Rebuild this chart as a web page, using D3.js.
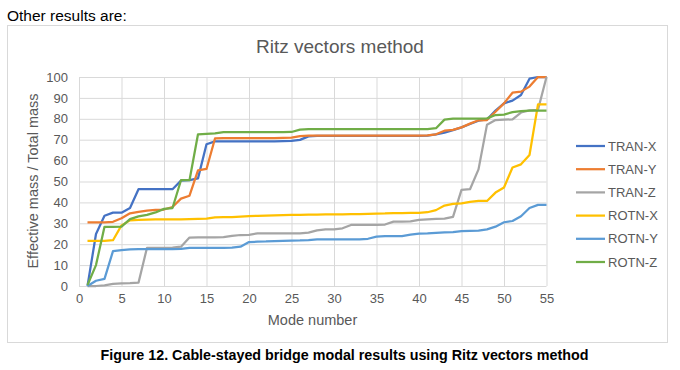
<!DOCTYPE html>
<html>
<head>
<meta charset="utf-8">
<script src="https://cdnjs.cloudflare.com/ajax/libs/d3/7.8.5/d3.min.js"></script>
<style>
    body { margin: 0; background: #fff; }
    text { font-family: "Liberation Sans", Arial, sans-serif; }
</style>
</head>
<body>
<svg id="chart"></svg>
<script>
// mode numbers 1..55
let modes = [1,2,3,4,5,6,7,8,9,10,11,12,13,14,15,16,17,18,19,20,21,22,23,24,25,26,27,28,29,30,31,32,33,34,35,36,37,38,39,40,41,42,43,44,45,46,47,48,49,50,51,52,53,54,55];

let tranX = [0,24.9,33.6,35.1,35.1,37.3,46.3,46.3,46.3,46.3,46.3,50.4,50.7,51.5,67.8,69.2,69.2,69.2,69.2,69.2,69.2,69.2,69.2,69.3,69.4,69.9,71.6,71.8,71.8,71.8,71.8,71.8,71.8,71.8,71.8,71.8,71.8,71.8,71.8,71.8,71.9,72.5,73.4,74.6,75.9,77.5,79.1,79.7,83.9,87.4,88.7,91.4,99.2,100,100];
let tranY = [30.5,30.5,30.5,30.7,32.4,34.8,35.5,36.1,36.4,36.6,37.8,41.8,43.2,55.3,56,70.6,70.7,70.7,70.7,70.8,70.8,70.8,70.8,70.9,71,71.7,72,72,72,72,72,72,72,72,72,72,72,72,72,72,72.1,72.6,74.3,74.7,75.9,77.7,79.3,79.4,83.4,87.4,92.5,93,95.4,100,100];
let tranZ = [0,0,0.3,1,1.3,1.4,1.6,18.3,18.3,18.3,18.4,18.8,23.2,23.3,23.3,23.3,23.4,24,24.4,24.5,25.2,25.2,25.2,25.2,25.2,25.2,25.5,26.6,27.1,27.1,27.6,29.2,29.2,29.2,29.2,29.4,30.8,30.8,30.9,31.6,31.9,32.1,32.2,33.1,46,46.3,55.8,77.2,79.4,79.6,79.7,83,84,84.3,100];
let rotnX = [21.6,21.6,21.6,21.9,29,31.4,31.6,31.8,31.9,31.9,31.9,31.9,32,32.1,32.2,32.8,32.9,33,33.2,33.4,33.6,33.7,33.8,33.9,34,34,34.1,34.2,34.3,34.3,34.3,34.4,34.4,34.5,34.6,34.7,34.9,34.9,35,35,35.3,36.3,38.5,39.3,39.5,40.2,40.7,40.7,44.7,47.1,56.7,58.2,62.7,86.9,86.9];
let rotnY = [0,2.5,3.4,16.7,17.2,17.5,17.6,17.7,17.7,17.7,17.7,17.8,18.2,18.3,18.3,18.3,18.3,18.4,18.8,21,21.2,21.3,21.5,21.6,21.7,21.8,22,22.3,22.3,22.3,22.3,22.3,22.3,22.6,23.6,23.9,23.9,23.9,24.6,25.1,25.2,25.4,25.6,25.8,26.3,26.4,26.5,27.1,28.4,30.5,31.1,33.4,37.3,38.8,38.8];
let rotnZ = [0.5,10,28.3,28.3,28.4,32,33.3,34,35.2,36.9,37.3,50.6,50.6,72.6,72.8,73,73.6,73.6,73.6,73.6,73.6,73.6,73.6,73.6,73.7,74.8,75.1,75.1,75.1,75.1,75.1,75.1,75.1,75.1,75.1,75.1,75.1,75.1,75.1,75.1,75.1,75.5,79.6,80.1,80.1,80.1,80.1,80.2,81.8,82,83.2,83.7,83.9,83.9,83.9];

let seriesNames = ["TRAN-X", "TRAN-Y", "TRAN-Z", "ROTN-X", "ROTN-Y", "ROTN-Z"];
let seriesValues = [tranX, tranY, tranZ, rotnX, rotnY, rotnZ];
let seriesColors = ["#4472C4", "#ED7D31", "#A5A5A5", "#FFC000", "#5B9BD5", "#70AD47"];

let xTicks = [0,5,10,15,20,25,30,35,40,45,50,55];
let yTicks = [0,10,20,30,40,50,60,70,80,90,100];

let width = 680, height = 370;
let labelColor = "#595959";
let gridColor = "#d9d9d9";

let svg = d3.select("#chart")
    .attr("width", width)
    .attr("height", height);

svg.append("rect").attr("width", width).attr("height", height).attr("fill", "#fff");

svg.append("text")
    .attr("x", 7).attr("y", 21)
    .style("font-size", "15.5px")
    .attr("fill", "#000")
    .text("Other results are:");

// chart frame
svg.append("rect")
    .attr("x", 7.5).attr("y", 25.5)
    .attr("width", 660).attr("height", 317)
    .attr("fill", "none")
    .attr("stroke", gridColor);

svg.append("text")
    .attr("x", 340).attr("y", 53)
    .attr("text-anchor", "middle")
    .style("font-size", "19px")
    .attr("fill", labelColor)
    .text("Ritz vectors method");

let x = d3.scaleLinear().domain([0, 55]).range([79, 546.5]);
let y = d3.scaleLinear().domain([0, 100]).range([286, 77]);

// gridlines
svg.append("g")
    .attr("transform", "translate(0,286)")
    .call(d3.axisBottom(x).tickValues(xTicks).tickSize(-(286 - 77)).tickFormat(""))
    .call(g => g.select(".domain").remove())
    .call(g => g.selectAll("line").attr("stroke", gridColor));

svg.append("g")
    .attr("transform", "translate(79,0)")
    .call(d3.axisLeft(y).tickValues(yTicks).tickSize(-(546.5 - 79)).tickFormat(""))
    .call(g => g.select(".domain").remove())
    .call(g => g.selectAll("line").attr("stroke", gridColor));

// tick labels
let xAxis = svg.append("g")
    .attr("transform", "translate(0,286)")
    .call(d3.axisBottom(x).tickValues(xTicks).tickSize(0).tickPadding(8));
let yAxis = svg.append("g")
    .attr("transform", "translate(79,0)")
    .call(d3.axisLeft(y).tickValues(yTicks).tickSize(0).tickPadding(11));
[xAxis, yAxis].forEach(function(ax) {
    ax.select(".domain").remove();
    ax.selectAll("text")
        .style("font-family", '"Liberation Sans", Arial, sans-serif')
        .style("font-size", "13px")
        .attr("fill", labelColor);
});

svg.append("text")
    .attr("x", 312.5).attr("y", 325)
    .attr("text-anchor", "middle")
    .style("font-size", "14.5px")
    .attr("fill", labelColor)
    .text("Mode number");

svg.append("text")
    .attr("transform", "translate(38,181) rotate(-90)")
    .attr("text-anchor", "middle")
    .style("font-size", "14.5px")
    .attr("fill", labelColor)
    .text("Effective mass / Total mass");

// series lines
let line = d3.line()
    .x(function(d, i) { return x(modes[i]); })
    .y(function(d) { return y(d); });

svg.append("g")
    .selectAll("path")
    .data(seriesValues)
    .enter()
    .append("path")
    .attr("d", line)
    .attr("fill", "none")
    .attr("stroke", function(d, i) { return seriesColors[i]; })
    .attr("stroke-width", 2.25)
    .attr("stroke-linejoin", "round");

// legend
let legend = svg.append("g")
    .selectAll("g")
    .data(seriesNames)
    .enter()
    .append("g")
    .attr("transform", function(d, i) { return "translate(576," + (146 + i * 23.2) + ")"; });

legend.append("line")
    .attr("x1", 0).attr("x2", 29)
    .attr("stroke", function(d, i) { return seriesColors[i]; })
    .attr("stroke-width", 2.25);

legend.append("text")
    .attr("x", 32).attr("dy", "0.35em")
    .style("font-size", "13px")
    .attr("fill", labelColor)
    .text(function(d) { return d; });

svg.append("text")
    .attr("x", 344.5).attr("y", 360)
    .attr("text-anchor", "middle")
    .style("font-size", "14.3px")
    .style("font-weight", "bold")
    .attr("fill", "#000")
    .text("Figure 12. Cable-stayed bridge modal results using Ritz vectors method");
</script>
</body>
</html>
